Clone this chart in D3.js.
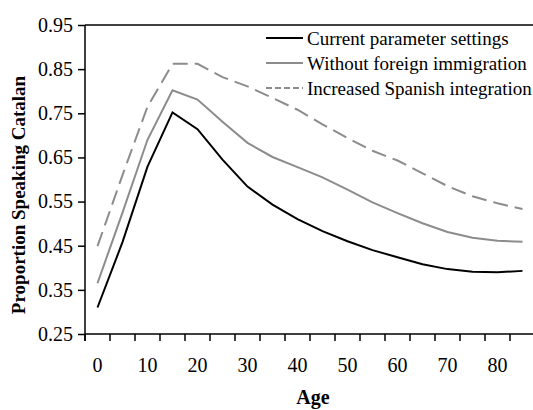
<!DOCTYPE html>
<html>
<head>
<meta charset="utf-8">
<script src="https://cdn.jsdelivr.net/npm/d3@7/dist/d3.min.js"></script>
<style>
  html, body { margin: 0; padding: 0; background: #fff; }
  svg { display: block; }
</style>
</head>
<body>
<svg id="chart" width="533" height="410"></svg>
<script>
// Age groups (start of each 5-year band)
const ages = [0, 5, 10, 15, 20, 25, 30, 35, 40, 45, 50, 55, 60, 65, 70, 75, 80, 85];
const ageLabels = [0, 10, 20, 30, 40, 50, 60, 70, 80];

// Proportion speaking Catalan under each scenario
const currentSettings = [0.310, 0.458, 0.629, 0.752, 0.714, 0.645, 0.584, 0.543, 0.510, 0.483, 0.460, 0.440, 0.424, 0.408, 0.397, 0.391, 0.390, 0.393];
const withoutForeign  = [0.365, 0.525, 0.690, 0.802, 0.781, 0.731, 0.683, 0.651, 0.628, 0.605, 0.577, 0.548, 0.524, 0.501, 0.481, 0.468, 0.461, 0.459];
const increasedSpanish = [0.449, 0.610, 0.765, 0.862, 0.862, 0.832, 0.811, 0.785, 0.758, 0.725, 0.694, 0.665, 0.643, 0.614, 0.585, 0.562, 0.546, 0.533];

const seriesNames = ["Current parameter settings", "Without foreign immigration", "Increased Spanish integration"];
const yTicks = [0.25, 0.35, 0.45, 0.55, 0.65, 0.75, 0.85, 0.95];

const series = [
  { name: seriesNames[0], values: currentSettings, color: "#000", dash: null, legendDash: null },
  { name: seriesNames[1], values: withoutForeign, color: "#8c8c8c", dash: null, legendDash: null },
  { name: seriesNames[2], values: increasedSpanish, color: "#8c8c8c", dash: "15,7", legendDash: "6,3" }
];

const FONT = "'Liberation Serif', 'Times New Roman', 'DejaVu Serif', serif";

const svg = d3.select("#chart").style("font-family", FONT);
const plotLeft = 85, plotRight = 535, plotTop = 25, plotBottom = 334;

const x = d3.scaleBand().domain(ages).range([plotLeft, plotRight]).padding(0);
const y = d3.scaleLinear().domain([0.25, 0.95]).range([plotBottom, plotTop]);

// Top frame line
svg.append("line")
  .attr("x1", plotLeft).attr("x2", plotRight)
  .attr("y1", plotTop).attr("y2", plotTop)
  .attr("stroke", "#000").attr("stroke-width", 1.5);

// Y axis
const yAxis = svg.append("g")
  .attr("transform", `translate(${plotLeft},0)`)
  .call(d3.axisLeft(y).tickValues(yTicks).tickFormat(d3.format(".2f")).tickSize(7).tickPadding(5));
yAxis.attr("font-family", null).attr("font-size", null);
yAxis.select(".domain").attr("stroke-width", 1.5).attr("d", `M0,${plotTop}V${plotBottom + 7}`);
yAxis.selectAll(".tick line").attr("stroke-width", 1.5);
yAxis.selectAll("text")
  .style("font-family", FONT).style("font-size", "20px").attr("fill", "#000");

// X axis: ticks on band boundaries, labels at every other band centre
const boundaries = ages.map(a => x(a));
const xg = svg.append("g").attr("transform", `translate(0,${plotBottom})`);
xg.append("line").attr("x1", plotLeft).attr("x2", plotRight).attr("y1", 0).attr("y2", 0)
  .attr("stroke", "#000").attr("stroke-width", 1.5);
xg.selectAll("line.tk").data(boundaries).join("line")
  .attr("class", "tk")
  .attr("x1", d => d).attr("x2", d => d)
  .attr("y1", 0).attr("y2", 7)
  .attr("stroke", "#000").attr("stroke-width", 1.5);
xg.selectAll("text.lbl").data(ageLabels).join("text")
  .attr("class", "lbl")
  .attr("x", d => x(d) + x.bandwidth() / 2)
  .attr("y", 38)
  .attr("text-anchor", "middle")
  .style("font-family", FONT).style("font-size", "20px")
  .text(d => d);

// Axis titles
svg.append("text")
  .attr("transform", `translate(25,195) rotate(-90)`)
  .attr("text-anchor", "middle")
  .style("font-family", FONT).style("font-size", "19px").style("font-weight", "bold")
  .text("Proportion Speaking Catalan");

svg.append("text")
  .attr("x", (plotLeft + plotRight) / 2 + 3)
  .attr("y", 404)
  .attr("text-anchor", "middle")
  .style("font-family", FONT).style("font-size", "20px").style("font-weight", "bold")
  .text("Age");

// Lines
const line = d3.line()
  .x((d, i) => x(ages[i]) + x.bandwidth() / 2)
  .y(d => y(d));

svg.selectAll("path.series").data(series).join("path")
  .attr("class", "series")
  .attr("d", d => line(d.values))
  .attr("fill", "none")
  .attr("stroke", d => d.color)
  .attr("stroke-width", 2)
  .attr("stroke-dasharray", d => d.dash)
  .attr("stroke-linejoin", "miter");

// Legend
const legend = svg.append("g").attr("transform", "translate(266,38)");
const rows = legend.selectAll("g").data(series).join("g")
  .attr("transform", (d, i) => `translate(0,${i * 25})`);
rows.append("line")
  .attr("x1", 0).attr("x2", 37).attr("y1", 0).attr("y2", 0)
  .attr("stroke", d => d.color).attr("stroke-width", 2)
  .attr("stroke-dasharray", d => d.legendDash);
rows.append("text")
  .attr("x", 41).attr("y", 6.5)
  .style("font-family", FONT).style("font-size", "19px")
  .text(d => d.name);
</script>
</body>
</html>
